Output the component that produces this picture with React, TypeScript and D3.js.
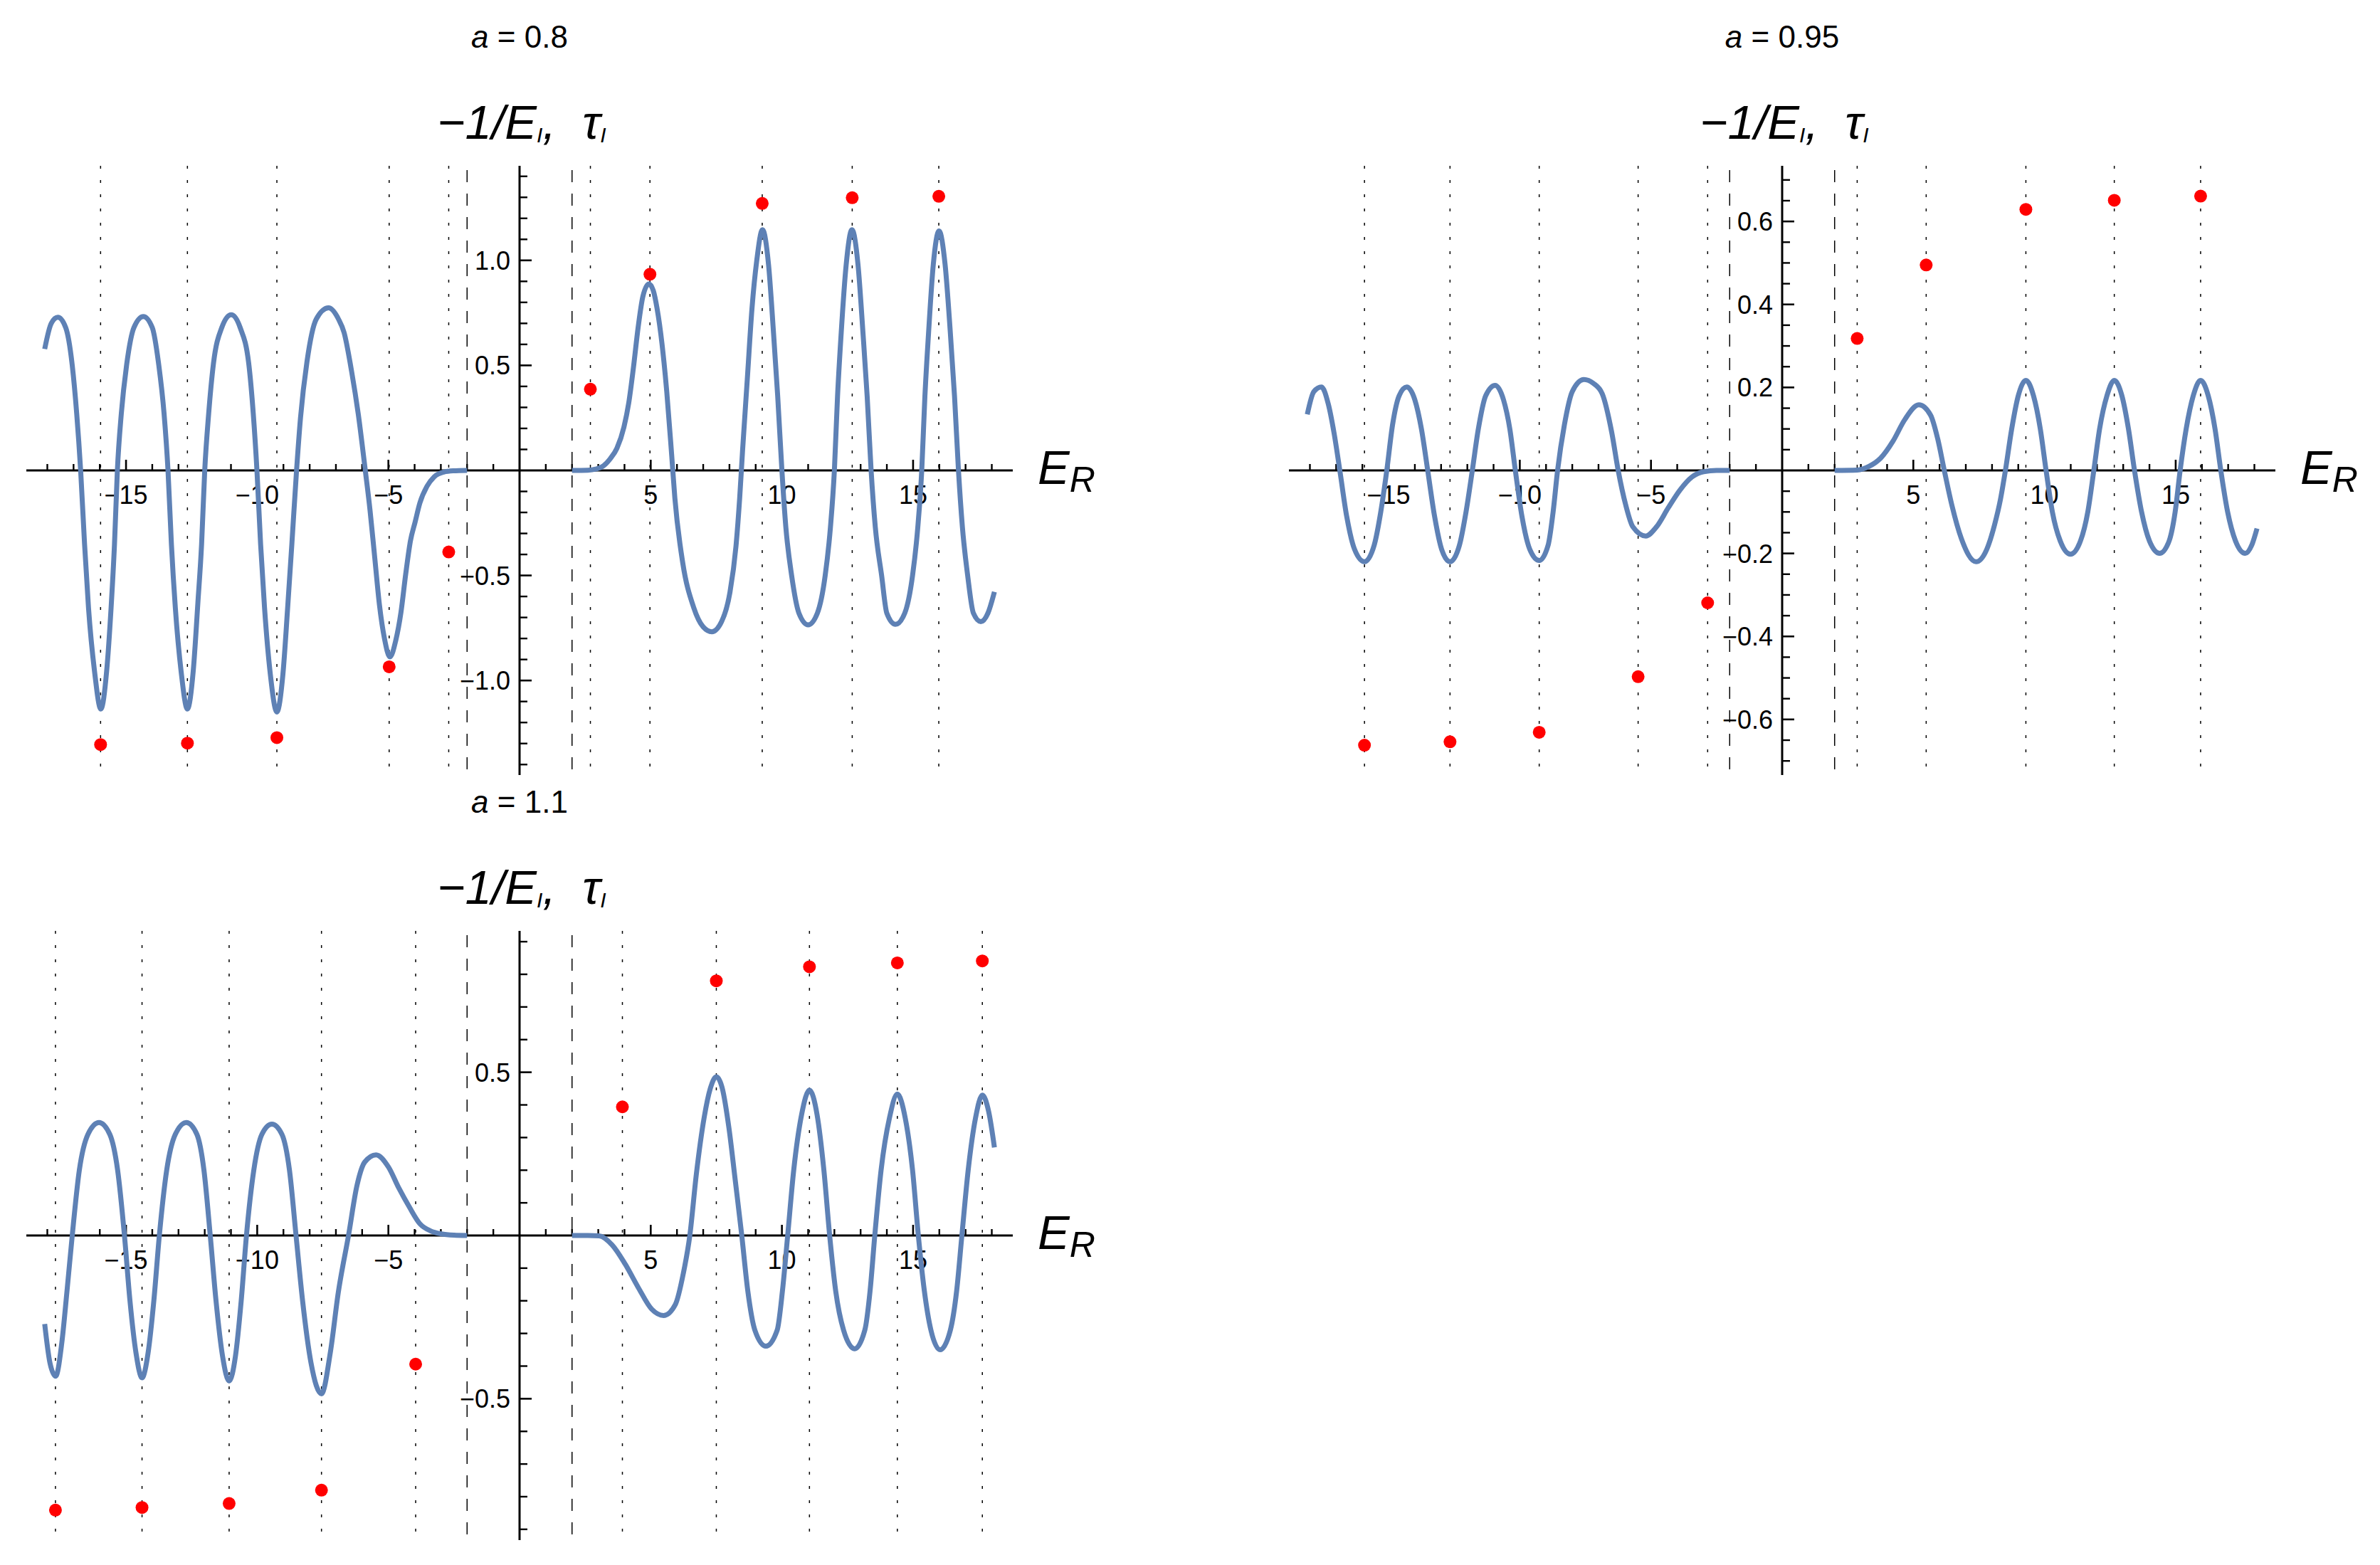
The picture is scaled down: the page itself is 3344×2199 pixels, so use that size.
import React from "react";
import * as d3 from "d3";

type Pt = [number, number];

// ---------- panel labels ----------
const aValues = ["0.8", "0.95", "1.1"];

// ---------- curve data: a = 0.8 ----------
const curve08Left: Pt[] = [
  [-18.1, 0.578], [-17.85, 0.7], [-17.6, 0.729], [-17.3, 0.68], [-17.05, 0.5], [-16.88, 0.27],
  [-16.73, 0], [-16.58, -0.352], [-16.43, -0.655], [-16.2, -0.957], [-15.96, -1.136],
  [-15.74, -0.957], [-15.57, -0.655], [-15.44, -0.352], [-15.33, 0], [-15.18, 0.27],
  [-14.98, 0.5], [-14.7, 0.68], [-14.34, 0.733], [-14.0, 0.68], [-13.75, 0.5], [-13.55, 0.27],
  [-13.4, 0], [-13.27, -0.352], [-13.12, -0.655], [-12.9, -0.957], [-12.66, -1.136],
  [-12.44, -0.957], [-12.26, -0.628], [-12.12, -0.352], [-12.0, 0], [-11.85, 0.27],
  [-11.67, 0.506], [-11.35, 0.68], [-10.99, 0.741], [-10.65, 0.68], [-10.32, 0.506],
  [-10.15, 0.27], [-10.01, 0], [-9.87, -0.352], [-9.72, -0.655], [-9.5, -0.97], [-9.25, -1.15],
  [-9.02, -0.97], [-8.84, -0.655], [-8.68, -0.352], [-8.5, 0], [-8.35, 0.25], [-8.1, 0.52],
  [-7.75, 0.72], [-7.28, 0.774], [-6.9, 0.72], [-6.69, 0.657], [-6.4, 0.47], [-6.15, 0.27],
  [-5.88, 0], [-5.7, -0.189], [-5.52, -0.415], [-5.34, -0.641], [-5.15, -0.8], [-4.94, -0.888],
  [-4.72, -0.81], [-4.52, -0.675], [-4.34, -0.494], [-4.16, -0.336], [-3.98, -0.245],
  [-3.8, -0.155], [-3.53, -0.076], [-3.26, -0.031], [-2.89, -0.008], [-2.53, -0.002], [-2.0, 0],
];
const curve08Right: Pt[] = [
  [2.0, 0], [2.6, 0.001], [2.9, 0.006], [3.2, 0.022], [3.45, 0.055], [3.71, 0.105], [3.98, 0.207],
  [4.16, 0.32], [4.34, 0.489], [4.52, 0.681], [4.7, 0.828], [4.93, 0.888], [5.1, 0.855],
  [5.24, 0.772], [5.43, 0.602], [5.61, 0.376], [5.8, 0.07], [5.92, -0.132], [6.22, -0.44],
  [6.63, -0.65], [7.0, -0.745], [7.33, -0.768], [7.7, -0.72], [8.02, -0.58], [8.25, -0.36],
  [8.39, -0.132], [8.5, 0.094], [8.68, 0.433], [8.86, 0.772], [9.04, 0.998], [9.26, 1.146],
  [9.49, 0.98], [9.68, 0.655], [9.84, 0.352], [10.0, 0], [10.15, -0.27], [10.37, -0.5],
  [10.65, -0.68], [11.0, -0.735], [11.35, -0.68], [11.65, -0.5], [11.85, -0.27], [12.0, 0],
  [12.12, 0.352], [12.26, 0.655], [12.45, 0.98], [12.67, 1.146], [12.9, 0.98], [13.09, 0.655],
  [13.25, 0.352], [13.4, 0], [13.56, -0.27], [13.8, -0.5], [14.0, -0.68], [14.33, -0.733],
  [14.68, -0.68], [14.98, -0.5], [15.18, -0.27], [15.33, 0], [15.45, 0.352], [15.59, 0.655],
  [15.77, 0.98], [15.99, 1.14], [16.22, 0.98], [16.42, 0.655], [16.58, 0.352], [16.73, 0],
  [16.88, -0.27], [17.08, -0.5], [17.3, -0.68], [17.58, -0.72], [17.85, -0.68], [18.1, -0.578],
];

// ---------- curve data: a = 0.95 ----------
const curve095Left: Pt[] = [
  [-18.1, 0.135], [-17.85, 0.19], [-17.56, 0.201], [-17.3, 0.16], [-17.08, 0.09], [-16.86, 0],
  [-16.6, -0.11], [-16.3, -0.19], [-15.92, -0.22], [-15.55, -0.18], [-15.3, -0.1], [-15.07, 0],
  [-14.85, 0.11], [-14.6, 0.18], [-14.31, 0.201], [-14.0, 0.17], [-13.75, 0.1], [-13.51, 0],
  [-13.25, -0.11], [-12.98, -0.19], [-12.66, -0.22], [-12.3, -0.18], [-12.05, -0.1], [-11.81, 0],
  [-11.58, 0.1], [-11.3, 0.18], [-10.94, 0.205], [-10.62, 0.17], [-10.38, 0.1], [-10.17, 0],
  [-9.92, -0.11], [-9.62, -0.19], [-9.26, -0.217], [-8.92, -0.18], [-8.73, -0.1], [-8.56, 0],
  [-8.3, 0.11], [-8.0, 0.19], [-7.56, 0.219], [-7.2, 0.21], [-6.86, 0.185], [-6.5, 0.093],
  [-6.25, 0], [-5.96, -0.084], [-5.69, -0.136], [-5.2, -0.158], [-4.79, -0.136], [-4.34, -0.09],
  [-3.89, -0.047], [-3.44, -0.016], [-2.99, -0.003], [-2.5, 0], [-2.0, 0],
];
const curve095Right: Pt[] = [
  [2.0, 0], [2.86, 0.001], [3.32, 0.01], [3.76, 0.03], [4.22, 0.07], [4.67, 0.122], [5.21, 0.158],
  [5.66, 0.133], [5.93, 0.076], [6.18, 0], [6.47, -0.084], [6.83, -0.164], [7.39, -0.22],
  [7.8, -0.19], [8.1, -0.13], [8.32, -0.07], [8.51, 0], [8.75, 0.1], [9.0, 0.18], [9.29, 0.217],
  [9.58, 0.18], [9.84, 0.1], [10.06, 0], [10.3, -0.1], [10.6, -0.17], [10.99, -0.202],
  [11.37, -0.17], [11.65, -0.1], [11.88, 0], [12.1, 0.1], [12.38, 0.18], [12.66, 0.217],
  [12.95, 0.18], [13.2, 0.1], [13.43, 0], [13.7, -0.1], [14.0, -0.17], [14.39, -0.2],
  [14.75, -0.17], [14.98, -0.1], [15.17, 0], [15.4, 0.1], [15.67, 0.18], [15.95, 0.217],
  [16.24, 0.18], [16.5, 0.1], [16.72, 0], [16.98, -0.1], [17.28, -0.17], [17.65, -0.2],
  [17.9, -0.18], [18.1, -0.14],
];

// ---------- curve data: a = 1.1 ----------
const curve11Left: Pt[] = [
  [-18.1, -0.271], [-17.9, -0.39], [-17.68, -0.431], [-17.45, -0.33], [-17.25, -0.17], [-17.05, 0],
  [-16.78, 0.2], [-16.45, 0.31], [-16.03, 0.346], [-15.62, 0.31], [-15.32, 0.2], [-15.06, 0],
  [-14.85, -0.2], [-14.62, -0.36], [-14.39, -0.436], [-14.16, -0.36], [-13.94, -0.2], [-13.73, 0],
  [-13.45, 0.2], [-13.12, 0.31], [-12.7, 0.346], [-12.3, 0.31], [-12.03, 0.2], [-11.79, 0],
  [-11.57, -0.2], [-11.32, -0.37], [-11.07, -0.446], [-10.83, -0.37], [-10.61, -0.2], [-10.41, 0],
  [-10.13, 0.2], [-9.82, 0.31], [-9.44, 0.341], [-9.06, 0.31], [-8.77, 0.2], [-8.52, 0],
  [-8.27, -0.2], [-7.95, -0.39], [-7.55, -0.485], [-7.21, -0.357], [-6.91, -0.175], [-6.52, 0],
  [-6.2, 0.152], [-5.9, 0.225], [-5.47, 0.247], [-5.0, 0.21], [-4.6, 0.145], [-4.2, 0.087],
  [-3.8, 0.036], [-3.39, 0.014], [-2.99, 0.005], [-2.5, 0.001], [-2.0, 0],
];
const curve11Right: Pt[] = [
  [2.0, 0], [2.6, 0], [3.03, -0.001], [3.53, -0.029], [4.03, -0.088], [4.53, -0.16], [5.04, -0.226],
  [5.49, -0.245], [5.94, -0.211], [6.24, -0.117], [6.49, 0], [6.74, 0.189], [7.04, 0.363],
  [7.27, 0.45], [7.5, 0.486], [7.73, 0.45], [7.98, 0.33], [8.22, 0.17], [8.47, 0], [8.7, -0.17],
  [8.97, -0.29], [9.39, -0.339], [9.82, -0.29], [10.02, -0.17], [10.22, 0], [10.45, 0.2],
  [10.75, 0.37], [11.05, 0.445], [11.34, 0.37], [11.6, 0.2], [11.82, 0], [12.05, -0.17],
  [12.35, -0.29], [12.77, -0.347], [13.16, -0.29], [13.36, -0.17], [13.54, 0], [13.78, 0.2],
  [14.1, 0.36], [14.4, 0.433], [14.7, 0.36], [14.98, 0.2], [15.2, 0], [15.43, -0.17],
  [15.68, -0.29], [16.03, -0.35], [16.42, -0.29], [16.66, -0.17], [16.86, 0], [17.1, 0.2],
  [17.38, 0.36], [17.64, 0.43], [17.88, 0.38], [18.1, 0.27],
];

// ---------- red points (tau_I) ----------
const dots08E = [-15.97, -12.66, -9.25, -4.97, -2.7, 2.7, 4.97, 9.25, 12.68, 15.98];
const dots08V = [-1.305, -1.298, -1.272, -0.935, -0.388, 0.387, 0.934, 1.271, 1.298, 1.305];
const dots095E = [-15.92, -12.66, -9.26, -5.49, -2.84, 2.86, 5.49, 9.29, 12.66, 15.95];
const dots095V = [-0.662, -0.654, -0.631, -0.497, -0.319, 0.318, 0.495, 0.629, 0.651, 0.661];
const dots11E = [-17.69, -14.39, -11.07, -7.55, -3.96, 3.92, 7.5, 11.05, 14.4, 17.64];
const dots11V = [-0.841, -0.833, -0.821, -0.78, -0.394, 0.394, 0.78, 0.823, 0.835, 0.841];

// dashed lines (gap edges)
const dashedE = [-2, 2];

// ---------- ticks ----------
const xMajorTicks = [-15, -10, -5, 5, 10, 15];
const xMinorTicks = [
  -18, -17, -16, -14, -13, -12, -11, -9, -8, -7, -6, -4, -3, -2, -1,
  1, 2, 3, 4, 6, 7, 8, 9, 11, 12, 13, 14, 16, 17, 18,
];
const yMajor08 = [-1.0, -0.5, 0.5, 1.0];
const yMajor095 = [-0.6, -0.4, -0.2, 0.2, 0.4, 0.6];
const yMajor11 = [-0.5, 0.5];

const FONT = "'Liberation Sans', Arial, Helvetica, sans-serif";
const BLUE = "#5E81B5";

interface PanelSpec {
  a: string;
  ox: number;
  oy: number;
  yMax: number;
  yMajor: number[];
  yStep: number;
  yMinorMax: number;
  left: Pt[];
  right: Pt[];
  dotsE: number[];
  dotsV: number[];
}

const panels: PanelSpec[] = [
  { a: aValues[0], ox: 730, oy: 661, yMax: 1.45, yMajor: yMajor08, yStep: 0.1, yMinorMax: 1.4,
    left: curve08Left, right: curve08Right, dotsE: dots08E, dotsV: dots08V },
  { a: aValues[1], ox: 2504, oy: 661, yMax: 0.734, yMajor: yMajor095, yStep: 0.05, yMinorMax: 0.7,
    left: curve095Left, right: curve095Right, dotsE: dots095E, dotsV: dots095V },
  { a: aValues[2], ox: 730, oy: 1736, yMax: 0.933, yMajor: yMajor11, yStep: 0.1, yMinorMax: 0.9,
    left: curve11Left, right: curve11Right, dotsE: dots11E, dotsV: dots11V },
];

function Panel({ p }: { p: PanelSpec }) {
  const HW = 693;
  const HH = 428;
  const x = d3.scaleLinear().domain([-18.8, 18.8]).range([p.ox - HW, p.ox + HW]);
  const y = d3.scaleLinear().domain([-p.yMax, p.yMax]).range([p.oy + HH, p.oy - HH]);
  const line = d3
    .line<Pt>()
    .x((d) => x(d[0]))
    .y((d) => y(d[1]))
    .curve(d3.curveMonotoneX);
  const fmtY = d3.format(".1f");
  const fmtX = d3.format("d");
  const nMinor = Math.round(p.yMinorMax / p.yStep);
  const yMinor: number[] = [];
  for (let i = -nMinor; i <= nMinor; i++) {
    if (i === 0) continue;
    const v = i * p.yStep;
    if (p.yMajor.some((m) => Math.abs(m - v) < 1e-6)) continue;
    yMinor.push(v);
  }
  const top = p.oy - HH;
  const bot = p.oy + HH;
  return (
    <g>
      {/* title */}
      <text x={p.ox} y={p.oy - 594} textAnchor="middle" fontSize={44} fontFamily={FONT}>
        <tspan fontStyle="italic">a</tspan> = {p.a}
      </text>
      {/* plot label */}
      <text x={p.ox + 3} y={p.oy - 466} textAnchor="middle" fontSize={67} fontFamily={FONT} fontStyle="italic">
        −1/E<tspan fontSize={30} dy={5}>I</tspan>
        <tspan dy={-5}>,{"\u00A0\u00A0"}τ</tspan>
        <tspan fontSize={30} dy={5}>I</tspan>
      </text>
      {/* dotted vertical lines */}
      {p.dotsE.map((e, i) => (
        <line key={"dt" + i} x1={x(e)} x2={x(e)} y1={top} y2={bot} stroke="#000" strokeWidth={1.5}
          strokeDasharray="4 16" />
      ))}
      {dashedE.map((e, i) => (
        <line key={"ds" + i} x1={x(e)} x2={x(e)} y1={top} y2={bot} stroke="#000" strokeWidth={1.5}
          strokeDasharray="17 16" strokeDashoffset={27} />
      ))}
      {/* tick labels */}
      {xMajorTicks.map((t) => (
        <text key={"xl" + t} x={x(t)} y={p.oy + 47} textAnchor="middle" fontSize={36} fontFamily={FONT}>
          {fmtX(t)}
        </text>
      ))}
      {p.yMajor.map((t) => (
        <text key={"yl" + t} x={p.ox - 13} y={y(t) + 13} textAnchor="end" fontSize={36} fontFamily={FONT}>
          {fmtY(t)}
        </text>
      ))}
      {/* axes */}
      <line x1={x(-18.8)} x2={x(18.8)} y1={p.oy} y2={p.oy} stroke="#000" strokeWidth={3} />
      <line x1={p.ox} x2={p.ox} y1={top} y2={bot} stroke="#000" strokeWidth={3} />
      {xMajorTicks.map((t) => (
        <line key={"xM" + t} x1={x(t)} x2={x(t)} y1={p.oy} y2={p.oy - 15} stroke="#000" strokeWidth={2.6} />
      ))}
      {xMinorTicks.map((t) => (
        <line key={"xm" + t} x1={x(t)} x2={x(t)} y1={p.oy} y2={p.oy - 9} stroke="#000" strokeWidth={2.4} />
      ))}
      {p.yMajor.map((t) => (
        <line key={"yM" + t} x1={p.ox} x2={p.ox + 17} y1={y(t)} y2={y(t)} stroke="#000" strokeWidth={2.6} />
      ))}
      {yMinor.map((t, i) => (
        <line key={"ym" + i} x1={p.ox} x2={p.ox + 11} y1={y(t)} y2={y(t)} stroke="#000" strokeWidth={2.4} />
      ))}
      {/* axis label */}
      <text x={p.ox + HW + 35} y={p.oy + 19} fontSize={67} fontFamily={FONT} fontStyle="italic">
        E<tspan fontSize={50} dy={11}>R</tspan>
      </text>
      {/* curves */}
      <path d={line(p.left) || ""} fill="none" stroke={BLUE} strokeWidth={7} strokeLinejoin="round" />
      <path d={line(p.right) || ""} fill="none" stroke={BLUE} strokeWidth={7} strokeLinejoin="round" />
      {/* points */}
      {p.dotsE.map((e, i) => (
        <circle key={"pt" + i} cx={x(e)} cy={y(p.dotsV[i])} r={9} fill="#FF0000" />
      ))}
    </g>
  );
}

export default function App() {
  return (
    <svg
      width={3344}
      height={2199}
      viewBox="0 0 3344 2199"
      style={{ position: "absolute", left: 0, top: 0, background: "#fff" }}
    >
      <rect x={0} y={0} width={3344} height={2199} fill="#fff" />
      {panels.map((p, i) => (
        <Panel key={i} p={p} />
      ))}
    </svg>
  );
}
